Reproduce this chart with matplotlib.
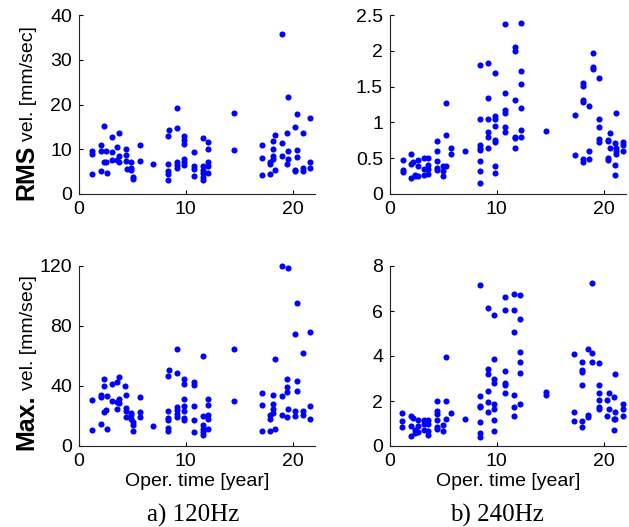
import matplotlib
matplotlib.use("Agg")
import matplotlib.pyplot as plt
from matplotlib.ticker import FormatStrFormatter

# RMS velocity at 120 Hz [mm/sec] vs operating time [year]
rms120_year = [1.2, 1.2, 1.2, 2.1, 2.1, 2.1, 2.3, 2.3, 2.5, 2.5, 2.6, 3.1, 3.1, 3.1,
               3.6, 3.7, 3.6, 3.7, 3.7, 4.4, 4.4, 4.4, 4.45, 4.9, 4.9, 4.9, 5.1, 5.1,
               5.7, 5.7, 6.9,
               8.3, 8.4, 8.3, 8.3, 8.3, 8.3, 9.2, 9.2, 9.2, 9.2, 9.2, 9.8, 9.8, 9.8,
               9.8, 9.8, 9.8, 10.8, 10.8, 10.8, 10.8, 11.6, 11.6, 11.6, 11.6, 11.6,
               11.6, 12.1, 12.1, 12.1, 12.1, 12.1, 14.5, 14.5,
               17.1, 17.1, 17.1, 17.9, 17.9, 17.9, 18.2, 18.2, 18.2, 18.2, 18.4, 18.4,
               19.0, 19.0, 19.0, 19.5, 19.6, 19.6, 19.6, 19.5, 20.2, 20.4, 20.4, 20.4,
               20.2, 20.2, 21.0, 21.0, 21.0, 21.6, 21.6, 21.6]
rms120_vel = [9.5, 9.0, 4.5, 11.0, 9.5, 5.1, 15.2, 7.1, 7.2, 9.5, 4.8, 12.7, 9.3, 7.7,
              10.4, 13.6, 7.7, 8.4, 7.1, 10.1, 8.7, 7.3, 5.6, 7.1, 5.8, 5.3, 3.9, 3.4,
              11.0, 7.3, 6.8,
              13.0, 14.4, 6.7, 5.1, 4.5, 3.2, 19.2, 14.7, 7.1, 6.5, 5.9, 13.0, 12.1, 11.2,
              7.9, 7.1, 6.5, 9.3, 6.2, 5.6, 4.1, 12.5, 6.2, 5.4, 4.7, 3.9,
              3.2, 11.6, 10.1, 7.1, 6.2, 4.8, 18.1, 9.9,
              11.0, 8.0, 4.2, 7.2, 6.7, 4.5, 11.8, 10.1, 8.6, 7.8, 13.2, 5.4,
              35.8, 11.5, 8.6, 13.6, 21.6, 9.5, 7.8, 6.8, 14.9, 17.8, 9.9, 8.3,
              5.4, 5.1, 13.6, 5.8, 5.1, 17.0, 7.1, 5.7]

# RMS velocity at 240 Hz
rms240_year = [1.2, 1.2, 1.2, 2.0, 2.0, 2.0, 2.2, 2.3, 2.3, 2.6, 2.6, 2.6, 3.15, 3.15, 3.15,
               3.6, 3.6, 3.6, 3.6, 4.4, 4.4, 4.4, 4.4, 4.4, 5.0, 5.0, 5.0, 5.2, 5.2, 5.2,
               5.7, 5.7, 7.0,
               8.4, 8.4, 8.4, 8.4, 8.4, 8.4, 8.4, 8.4, 9.2, 9.2, 9.2, 9.2, 9.2, 9.2,
               9.8, 9.8, 9.8, 9.8, 9.8, 9.8, 9.8, 9.8, 10.8, 10.8, 10.8, 10.8, 10.8, 10.8,
               11.7, 11.7, 11.7, 11.7, 11.7, 11.7, 12.3, 12.3, 12.3, 12.3, 12.3, 12.3, 14.6,
               17.3, 17.3, 18.1, 18.1, 18.1, 18.1, 18.1, 18.1, 18.6, 18.6, 18.6,
               19.0, 19.0, 19.0, 19.6, 19.6, 19.6, 19.6, 19.6, 20.4, 20.4, 20.4, 20.4,
               20.6, 20.6, 21.1, 21.1, 21.1, 21.2, 21.2, 21.2, 21.2, 21.8, 21.8, 21.8]
rms240_vel = [0.48, 0.34, 0.31, 0.56, 0.42, 0.23, 0.44, 0.27, 0.25, 0.48, 0.39, 0.25, 0.50, 0.35, 0.27,
              0.50, 0.40, 0.35, 0.28, 0.74, 0.60, 0.46, 0.36, 0.33, 0.39, 0.32, 0.25, 1.27, 0.83, 0.39,
              0.64, 0.56, 0.60,
              1.80, 1.05, 0.68, 0.64, 0.61, 0.46, 0.32, 0.15, 1.83, 1.34, 1.05, 0.87, 0.80, 0.64,
              1.69, 1.09, 1.05, 0.95, 0.76, 0.73, 0.39, 0.29, 2.37, 1.41, 1.17, 1.13, 0.94, 0.87,
              2.06, 2.00, 1.31, 0.79, 0.78, 0.64, 2.39, 1.72, 1.53, 1.20, 0.90, 0.79, 0.88,
              1.11, 0.54, 1.55, 1.51, 1.31, 1.29, 0.49, 0.45, 1.23, 0.60, 0.49,
              1.97, 1.78, 1.74, 1.62, 1.05, 0.93, 0.77, 0.72, 0.75, 0.74, 0.50, 0.47,
              0.85, 0.64, 0.71, 0.40, 0.27, 1.13, 0.64, 0.60, 0.56, 0.72, 0.69, 0.60]

# Max velocity at 120 Hz
max120_year = [1.2, 1.2, 2.1, 2.1, 2.1, 2.3, 2.3, 2.3, 2.5, 2.6, 2.6, 3.1, 3.1,
               3.6, 3.6, 3.6, 3.7, 3.7, 3.7, 4.3, 4.4, 4.4, 4.4, 4.4, 4.9, 4.9, 4.9,
               5.1, 5.1, 5.1, 5.7, 5.7, 5.7, 6.9,
               8.3, 8.3, 8.3, 8.3, 8.3, 8.3, 8.4, 9.2, 9.2, 9.2, 9.2, 9.2, 9.2,
               9.8, 9.8, 9.8, 9.8, 9.8, 9.8, 9.8, 10.8, 10.8, 10.8, 10.8, 10.8,
               11.6, 11.6, 11.6, 11.6, 11.6, 11.6, 12.1, 12.1, 12.1, 12.1, 12.1, 14.5, 14.5,
               17.1, 17.1, 17.1, 17.9, 17.9, 17.9, 18.2, 18.2, 18.2, 18.2, 18.4, 18.4,
               19.0, 19.0, 19.0, 19.5, 19.5, 19.5, 19.5, 19.6, 19.6, 20.2, 20.2, 20.2,
               20.4, 20.4, 20.4, 21.0, 21.0, 21.0, 21.6, 21.6, 21.6]
max120_vel = [30.9, 10.7, 33.8, 32.4, 14.9, 44.4, 40.2, 22.7, 23.8, 33.3, 11.6, 41.1, 29.8,
              42.7, 29.3, 24.9, 46.0, 31.6, 28.4, 40.2, 33.8, 25.3, 23.6, 19.3, 22.2, 20.4, 18.2,
              16.0, 13.8, 10.0, 32.4, 22.7, 19.6, 13.3,
              46.7, 23.6, 18.7, 17.6, 12.0, 9.8, 50.9, 64.4, 48.4, 26.0, 23.8, 21.6, 19.3,
              44.4, 41.3, 31.1, 26.7, 23.1, 18.7, 17.3, 42.7, 40.9, 26.7, 17.1, 9.3,
              60.2, 20.0, 13.8, 11.6, 9.3, 7.1, 31.1, 27.6, 20.4, 18.2, 11.6, 64.4, 30.2,
              35.1, 27.6, 10.0, 20.4, 18.2, 10.0, 34.2, 28.2, 24.9, 22.2, 57.8, 11.6,
              120.0, 33.3, 20.9, 44.4, 39.1, 36.0, 19.1, 118.9, 24.9, 74.4, 23.6, 20.0,
              95.6, 43.6, 36.7, 62.0, 23.6, 20.4, 76.2, 26.7, 18.2]

# Max velocity at 240 Hz
max240_year = [1.16, 1.16, 1.16, 2.0, 2.0, 2.0, 2.2, 2.3, 2.3, 2.6, 2.6, 2.6,
               3.15, 3.15, 3.15, 3.6, 3.6, 3.6, 3.6, 4.4, 4.4, 4.4, 4.4, 4.4, 4.4,
               5.0, 5.0, 5.2, 5.2, 5.2, 5.7, 7.0,
               8.4, 8.4, 8.4, 8.4, 8.4, 8.4, 8.4, 9.2, 9.2, 9.2, 9.2, 9.2, 9.2,
               9.75, 9.75, 9.75, 9.75, 9.75, 9.75, 9.75, 9.75, 10.8, 10.8, 10.8, 10.8, 10.8, 10.8,
               11.6, 11.6, 11.6, 11.6, 11.6, 11.6, 12.2, 12.2, 12.2, 12.2, 12.2, 12.2, 14.6, 14.6,
               17.2, 17.2, 17.2, 18.0, 18.0, 18.0, 18.0, 18.0, 18.0, 18.55, 18.55, 18.55,
               18.96, 18.96, 18.96, 19.6, 19.6, 19.6, 19.6, 19.6, 19.6, 20.3, 20.3, 20.5, 20.5,
               21.0, 21.0, 21.0, 21.1, 21.1, 21.1, 21.8, 21.8, 21.8]
max240_vel = [1.45, 1.11, 0.83, 1.33, 0.89, 0.43, 1.24, 0.70, 0.59, 1.17, 0.89, 0.62,
              1.17, 0.99, 0.70, 1.17, 0.99, 0.67, 0.47, 2.00, 1.54, 1.44, 1.17, 0.83, 0.77,
              0.95, 0.67, 3.96, 2.00, 1.21, 1.45, 1.21,
              7.16, 2.22, 1.78, 1.73, 1.05, 0.56, 0.39, 6.15, 3.41, 3.20, 2.44, 1.96, 1.51,
              5.81, 3.85, 2.96, 2.80, 1.88, 1.66, 1.17, 0.67, 6.64, 6.03, 3.33, 2.79, 2.70, 2.36,
              6.76, 6.03, 5.08, 2.28, 1.73, 1.33, 6.70, 5.64, 4.18, 3.73, 3.23, 1.88, 2.40, 2.28,
              4.07, 1.51, 1.11, 3.73, 3.36, 3.29, 2.70, 1.11, 0.83, 4.30, 1.39, 1.27,
              7.26, 4.13, 3.73, 3.69, 2.73, 2.36, 2.06, 1.73, 1.66, 2.06, 1.32, 2.36, 1.66,
              2.18, 1.21, 0.71, 3.19, 1.51, 1.21, 1.85, 1.66, 1.32]

rms120_ticks = [0, 10, 20, 30, 40]
rms240_ticks = [0, 0.5, 1, 1.5, 2, 2.5]
max120_ticks = [0, 40, 80, 120]
max240_ticks = [0, 2, 4, 6, 8]
year_ticks = [0, 10, 20]

plt.rcParams['font.family'] = ['Liberation Sans', 'DejaVu Sans']
W, H = 629, 527
fig = plt.figure(figsize=(W / 100, H / 100), dpi=100)


def make_axes(px_left, px_top, px_w, px_h):
    return fig.add_axes([px_left / W, 1 - (px_top + px_h) / H, px_w / W, px_h / H])


def style(ax, year, vel, yticks, xlabel=None):
    ax.plot(year, vel, 'o', color=(0, 0, 1), ms=4.4, mew=0, clip_on=False)
    ax.set_xlim(0, 22.1)
    ax.set_ylim(yticks[0], yticks[-1])
    ax.set_xticks(year_ticks)
    ax.set_yticks(yticks)
    ax.yaxis.set_major_formatter(FormatStrFormatter('%g'))
    for s in ['top', 'right']:
        ax.spines[s].set_visible(False)
    for s in ['left', 'bottom']:
        ax.spines[s].set_linewidth(0.8)
        ax.spines[s].set_color('#222222')
    ax.tick_params(direction='in', length=3, width=0.8, labelsize=14, pad=5)
    if xlabel:
        ax.set_xlabel(xlabel, fontsize=14, labelpad=2)


ax1 = make_axes(79, 15, 236, 179)
ax2 = make_axes(390, 15, 236, 179)
ax3 = make_axes(79, 266, 236, 180)
ax4 = make_axes(390, 266, 236, 180)

style(ax1, rms120_year, rms120_vel, rms120_ticks)
style(ax2, rms240_year, rms240_vel, rms240_ticks)
style(ax3, max120_year, max120_vel, max120_ticks, 'Oper. time [year]')
style(ax4, max240_year, max240_vel, max240_ticks, 'Oper. time [year]')

renderer = fig.canvas.get_renderer()


def split_ylabel(x_px, y_px, bold, rest):
    # bold word followed by the normal part, both rotated and sharing a baseline
    t1 = fig.text(x_px / W, 1 - y_px / H, bold, rotation=90, rotation_mode='anchor',
                  ha='left', va='baseline', fontsize=18, fontweight='bold')
    bb = t1.get_window_extent(renderer)
    fig.text(x_px / W, (bb.y1 + 4) / H, rest, rotation=90, rotation_mode='anchor',
             ha='left', va='baseline', fontsize=14)


split_ylabel(33, 200, 'RMS', 'vel. [mm/sec]')
split_ylabel(33, 450, 'Max.', 'vel. [mm/sec]')

fig.text(193 / W, 1 - 522 / H, 'a) 120Hz', family='Liberation Serif', fontsize=18,
         ha='center', va='baseline')
fig.text(497 / W, 1 - 522 / H, 'b) 240Hz', family='Liberation Serif', fontsize=18,
         ha='center', va='baseline')

fig.savefig('out.png', dpi=100)
